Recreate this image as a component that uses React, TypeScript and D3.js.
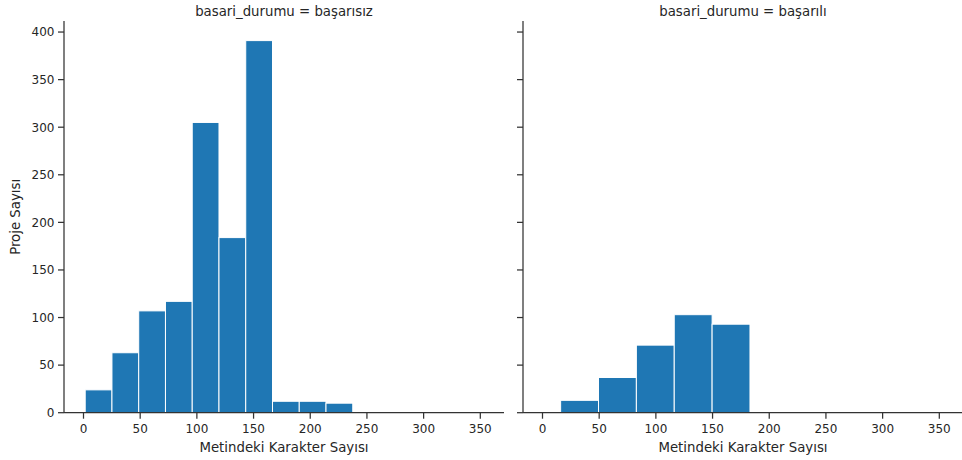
import React from "react";
import * as d3 from "d3";

const facetTitles = ["basari_durumu = başarısız", "basari_durumu = başarılı"];
const xLabel = "Metindeki Karakter Sayısı";
const yLabel = "Proje Sayısı";

// Histogram bins (left edges, width) and counts per facet
const failBinStart = 1.5;
const failBinWidth = 23.6;
const failCounts = [24, 63, 107, 117, 305, 184, 391, 12, 12, 10];

const successBinStart = 16;
const successBinWidth = 33.4;
const successCounts = [13, 37, 71, 103, 93];

const xTicks = [0, 50, 100, 150, 200, 250, 300, 350];
const yTicks = [0, 50, 100, 150, 200, 250, 300, 350, 400];

const X_DOMAIN: [number, number] = [-17.2, 370.9];
const Y_DOMAIN: [number, number] = [0, 411.6];

const FONT = "DejaVu Sans, sans-serif";
const TEXT = "#262626";
const SPINE = "#333333";

type Facet = {
  title: string;
  start: number;
  width: number;
  counts: number[];
  x0: number;
  x1: number;
  showYLabels: boolean;
};

export default function App() {
  const W = 962;
  const H = 460;
  const top = 21;
  const bottom = 412.7;
  const y = d3.scaleLinear().domain(Y_DOMAIN).range([bottom, top]);

  const facets: Facet[] = [
    { title: facetTitles[0], start: failBinStart, width: failBinWidth, counts: failCounts, x0: 64, x1: 504, showYLabels: true },
    { title: facetTitles[1], start: successBinStart, width: successBinWidth, counts: successCounts, x0: 523, x1: 963, showYLabels: false },
  ];

  return (
    <svg width={W} height={H} style={{ position: "absolute", left: 0, top: 0, background: "#fff" }}>
      <rect x={0} y={0} width={W} height={H} fill="#fff" />
      {facets.map((f, fi) => {
        const x = d3.scaleLinear().domain(X_DOMAIN).range([f.x0, f.x1]);
        const bins = f.counts.map((c, i) => ({ a: f.start + i * f.width, b: f.start + (i + 1) * f.width, c }));
        const cx = (f.x0 + f.x1) / 2;
        return (
          <g key={fi}>
            {bins.map((bn, i) => (
              <rect
                key={i}
                x={x(bn.a)}
                y={y(bn.c)}
                width={x(bn.b) - x(bn.a)}
                height={y(0) - y(bn.c)}
                fill="#1f77b4"
                stroke="#ffffff"
                strokeWidth={1}
              />
            ))}
            {/* spines */}
            <line x1={f.x0} x2={f.x0} y1={top} y2={bottom} stroke={SPINE} strokeWidth={1.25} />
            <line x1={f.x0} x2={f.x1} y1={bottom} y2={bottom} stroke={SPINE} strokeWidth={1.25} />
            {/* y ticks */}
            {yTicks.map((t) => (
              <g key={"y" + t}>
                <line x1={f.x0 - 6} x2={f.x0} y1={y(t)} y2={y(t)} stroke={SPINE} strokeWidth={1.25} />
                {f.showYLabels && (
                  <text x={f.x0 - 9.5} y={y(t)} dy="0.36em" textAnchor="end" fontFamily={FONT} fontSize={12} fill={TEXT}>
                    {t}
                  </text>
                )}
              </g>
            ))}
            {/* x ticks */}
            {xTicks.map((t) => (
              <g key={"x" + t}>
                <line x1={x(t)} x2={x(t)} y1={bottom} y2={bottom + 6} stroke={SPINE} strokeWidth={1.25} />
                <text x={x(t)} y={433} textAnchor="middle" fontFamily={FONT} fontSize={12} fill={TEXT}>
                  {t}
                </text>
              </g>
            ))}
            <text x={cx} y={452} textAnchor="middle" fontFamily={FONT} fontSize={13.3} fill={TEXT}>
              {xLabel}
            </text>
            <text x={cx} y={16} textAnchor="middle" fontFamily={FONT} fontSize={13.3} fill={TEXT}>
              {f.title}
            </text>
          </g>
        );
      })}
      <text
        transform={`translate(20, ${(top + bottom) / 2}) rotate(-90)`}
        textAnchor="middle"
        fontFamily={FONT}
        fontSize={13.3}
        fill={TEXT}
      >
        {yLabel}
      </text>
    </svg>
  );
}
